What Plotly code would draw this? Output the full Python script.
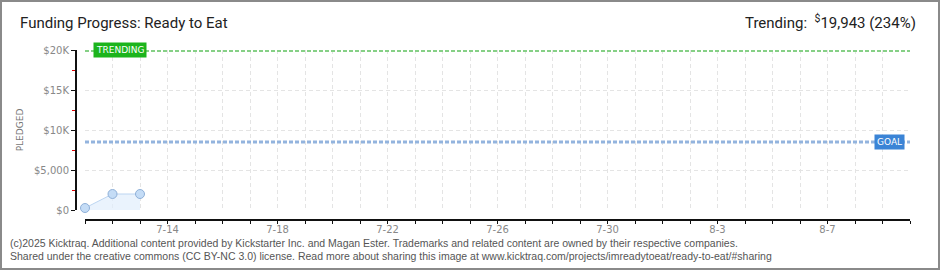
import plotly.graph_objects as go

# ---- data ----
dates = ["2025-07-11", "2025-07-12", "2025-07-13"]
pledged = [250, 2000, 2000]
goal_value = 8500
trending_value = 19943
trending_pct = 234
x_start = "2025-07-11"
x_end = "2025-08-10"
y_tick_vals = [0, 5000, 10000, 15000, 20000]
y_tick_text = ["$0", "$5,000", "$10K", "$15K", "$20K"]

W, H = 940, 270
L, R, T, B = 76, 30, 50, 50
pw, ph = W - L - R, H - T - B

def px_x(p):
    return (p - L) / pw

def px_y(p):
    return (H - B - p) / ph

fig = go.Figure()

# pledged area + line
fig.add_trace(go.Scatter(
    x=dates, y=pledged, mode="lines+markers",
    line=dict(color="#bcd5f1", width=1),
    fill="tozeroy", fillcolor="rgba(225,238,252,0.7)",
    marker=dict(size=9, color="#c4dcf6", line=dict(color="#8fb0d8", width=1)),
    hoverinfo="skip", cliponaxis=False,
))

# goal line
fig.add_trace(go.Scatter(
    x=[x_start, x_end], y=[goal_value, goal_value], mode="lines",
    line=dict(color="#93b4de", width=3, dash="4px,2px"),
    hoverinfo="skip", cliponaxis=False,
))
# trending line
fig.add_trace(go.Scatter(
    x=[x_start, x_end], y=[trending_value, trending_value], mode="lines",
    line=dict(color="#86d086", width=3, dash="4px,2px"),
    hoverinfo="skip", cliponaxis=False,
))

grid = dict(showgrid=True, gridcolor="#e4e4e4", griddash="4px,3px", gridwidth=1)

fig.update_layout(
    width=W, height=H,
    margin=dict(l=L, r=R, t=T, b=B),
    paper_bgcolor="white", plot_bgcolor="white",
    showlegend=False,
    font=dict(family="DejaVu Sans", color="#888"),
    xaxis=dict(
        type="date", range=[x_start, x_end],
        domain=[px_x(85), 1], anchor="free", position=0,
        tick0="2025-07-14", dtick=4 * 86400000, tickformat="%-m-%-d",
        ticks="outside", ticklen=3, tickcolor="#111", tickwidth=1,
        ticklabelstandoff=-3,
        showline=True, linecolor="#111", linewidth=2,
        tickfont=dict(size=10, color="#888"),
        minor=dict(dtick=86400000, tick0="2025-07-11", ticks="outside",
                   ticklen=3, tickcolor="#111", showgrid=True,
                   gridcolor="#e4e4e4", griddash="4px,3px"),
        zeroline=False, **grid,
    ),
    yaxis=dict(
        range=[0, 20000], domain=[px_y(210), 1], anchor="free", position=0,
        tickvals=y_tick_vals, ticktext=y_tick_text,
        ticks="outside", ticklen=4, tickcolor="#111", tickwidth=1,
        showline=True, linecolor="#111", linewidth=2,
        tickfont=dict(size=10, color="#888"),
        minor=dict(dtick=2500, ticks="outside", ticklen=3, tickcolor="#e00000",
                   showgrid=False),
        zeroline=False,
        title=dict(text="PLEDGED", font=dict(size=9, color="#777"), standoff=8),
        **grid,
    ),
    title=dict(text="Funding Progress: Ready to Eat", xref="container", yref="container",
               x=20 / W, xanchor="left", y=1 - 23 / H, yanchor="middle",
               font=dict(family="Roboto", size=15, color="#222")),
)

annotations = [
    dict(text="TRENDING", x=x_start, y=trending_value, xref="x", yref="y",
         xanchor="left", yanchor="middle", xshift=8, showarrow=False,
         bgcolor="#1cb41c", font=dict(family="DejaVu Sans", size=9, color="white"),
         borderpad=2),
    dict(text="GOAL", x=x_end, y=goal_value, xref="x", yref="y",
         xanchor="right", yanchor="middle", xshift=-5, showarrow=False,
         bgcolor="#3b84d6", font=dict(family="DejaVu Sans", size=9, color="white"),
         borderpad=2),
    dict(text=f"Trending:  <sup>$</sup>{trending_value:,} ({trending_pct}%)",
         xref="paper", yref="paper", x=px_x(918), y=px_y(22),
         xanchor="right", yanchor="middle", showarrow=False,
         font=dict(family="Roboto", size=15, color="#222")),
    dict(text="(c)2025 Kicktraq. Additional content provided by Kickstarter Inc. and Magan Ester. "
              "Trademarks and related content are owned by their respective companies.",
         xref="paper", yref="paper", x=px_x(8), y=px_y(243),
         xanchor="left", yanchor="middle", showarrow=False,
         font=dict(family="Liberation Sans", size=10.5, color="#555")),
    dict(text="Shared under the creative commons (CC BY-NC 3.0) license. Read more about sharing "
              "this image at www.kicktraq.com/projects/imreadytoeat/ready-to-eat/#sharing",
         xref="paper", yref="paper", x=px_x(8), y=px_y(256),
         xanchor="left", yanchor="middle", showarrow=False,
         font=dict(family="Liberation Sans", size=10.5, color="#555")),
]
fig.update_layout(annotations=annotations)

fig.add_shape(type="rect", xref="paper", yref="paper",
              x0=px_x(1), x1=px_x(939), y0=px_y(1), y1=px_y(269),
              line=dict(color="#8a8a8a", width=2), fillcolor="rgba(0,0,0,0)", layer="above")

fig.write_html("out.html")
